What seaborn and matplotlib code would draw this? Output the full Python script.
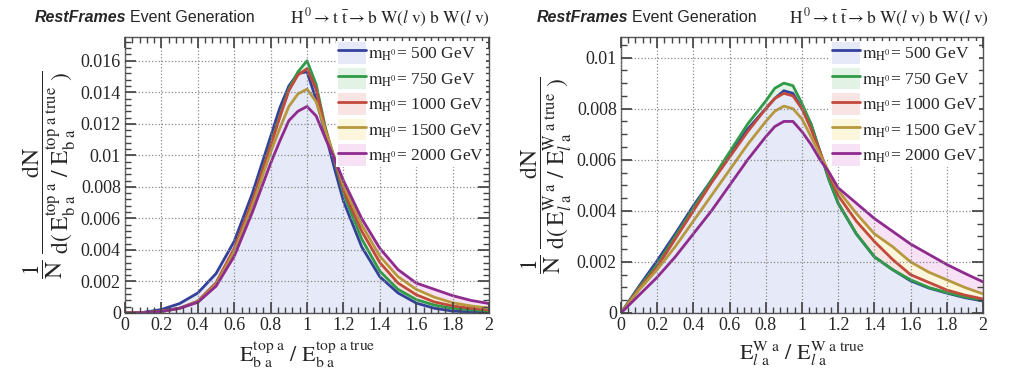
import numpy as np
import pandas as pd
import matplotlib
matplotlib.use("Agg")
import matplotlib.pyplot as plt
import seaborn as sns
from matplotlib.lines import Line2D
from matplotlib.patches import Patch
from matplotlib.ticker import MultipleLocator, FuncFormatter

# ------------------------------
# Data
# ------------------------------
masses = [500, 750, 1000, 1500, 2000]
colors = ["#34419a", "#2f9a48", "#c24a3c", "#b8983f", "#8f2a8f"]
fills = ["#e6e9f7", "#e2f3e6", "#f8e4e2", "#fcf6dc", "#f6e2f4"]

x_top = [0, 0.1, 0.2, 0.3, 0.4, 0.5, 0.6, 0.7, 0.8, 0.85, 0.9, 0.95, 1.0,
         1.05, 1.1, 1.15, 1.2, 1.3, 1.4, 1.5, 1.6, 1.7, 1.8, 1.9, 2.0]
top_500 = [0, 0.00004, 0.00022, 0.0006, 0.00127, 0.0025, 0.00455, 0.0076, 0.0112, 0.0130,
           0.0144, 0.0152, 0.0153, 0.01355, 0.0114, 0.0092, 0.0071, 0.0042, 0.0023, 0.00127,
           0.00063, 0.0003, 0.00012, 0.00007, 0.00005]
top_750 = [0, 0.00002, 0.0001, 0.0003, 0.00074, 0.0019, 0.0040, 0.0071, 0.0107, 0.0125,
           0.0142, 0.0153, 0.0160, 0.0145, 0.0118, 0.0097, 0.0076, 0.0047, 0.00265, 0.0015,
           0.00085, 0.0005, 0.0003, 0.0002, 0.00015]
top_1000 = [0, 0.00002, 0.0001, 0.0003, 0.00075, 0.0019, 0.0041, 0.0071, 0.0106, 0.0124,
            0.0141, 0.0151, 0.0155, 0.0142, 0.0117, 0.0098, 0.0078, 0.0052, 0.0032, 0.0019,
            0.00116, 0.0007, 0.00045, 0.0003, 0.0002]
top_1500 = [0, 0.00002, 0.0001, 0.0003, 0.0007, 0.0018, 0.0039, 0.0068, 0.0102, 0.0117,
            0.0131, 0.0139, 0.0142, 0.0134, 0.0116, 0.0099, 0.0081, 0.0056, 0.0036, 0.0023,
            0.0015, 0.001, 0.00065, 0.00045, 0.0003]
top_2000 = [0, 0.00002, 0.0001, 0.0003, 0.00068, 0.0017, 0.0036, 0.0064, 0.0095, 0.0109,
            0.0122, 0.0128, 0.0131, 0.0125, 0.0111, 0.0098, 0.0084, 0.0060, 0.0041, 0.00275,
            0.0019, 0.0015, 0.0011, 0.0008, 0.0006]

x_w = [0, 0.1, 0.2, 0.3, 0.4, 0.5, 0.6, 0.7, 0.8, 0.85, 0.9, 0.95, 1.0,
       1.05, 1.1, 1.15, 1.2, 1.3, 1.4, 1.5, 1.6, 1.7, 1.8, 1.9, 2.0]
w_500 = [0, 0.00105, 0.00205, 0.0031, 0.0042, 0.0052, 0.0062, 0.0072, 0.0080, 0.0084,
         0.0087, 0.0086, 0.0080, 0.0074, 0.0063, 0.0052, 0.0043, 0.0031, 0.0022, 0.0017,
         0.00126, 0.00098, 0.00078, 0.0006, 0.00047]
w_750 = [0, 0.001, 0.0019, 0.003, 0.0041, 0.0052, 0.0063, 0.0074, 0.0083, 0.0088,
         0.0090, 0.0089, 0.0082, 0.0074, 0.0063, 0.0052, 0.0043, 0.0031, 0.0022, 0.0017,
         0.0013, 0.001, 0.0008, 0.00063, 0.0005]
w_1000 = [0, 0.00095, 0.0018, 0.0029, 0.0040, 0.0051, 0.0061, 0.0071, 0.0080, 0.0084,
          0.0086, 0.0085, 0.0080, 0.0072, 0.0063, 0.0054, 0.0046, 0.0036, 0.0028, 0.0021,
          0.0015, 0.0012, 0.0009, 0.0007, 0.00055]
w_1500 = [0, 0.0009, 0.0017, 0.0026, 0.0036, 0.0046, 0.0056, 0.0066, 0.0075, 0.0079,
          0.0081, 0.0080, 0.0076, 0.0069, 0.0062, 0.0055, 0.0048, 0.0039, 0.0031, 0.0026,
          0.0020, 0.0016, 0.0013, 0.001, 0.00075]
w_2000 = [0, 0.0007, 0.0014, 0.0022, 0.0031, 0.0040, 0.0050, 0.0060, 0.0069, 0.0073,
          0.0075, 0.0075, 0.0071, 0.0066, 0.0060, 0.0055, 0.0049, 0.0043, 0.0037, 0.0032,
          0.0027, 0.0023, 0.0019, 0.00155, 0.00122]


def to_frame(x, series):
    rows = []
    for m, ys in zip(masses, series):
        for xv, yv in zip(x, ys):
            rows.append({"x": xv, "y": yv, "mass": m})
    return pd.DataFrame(rows)


df_top = to_frame(x_top, [top_500, top_750, top_1000, top_1500, top_2000])
df_w = to_frame(x_w, [w_500, w_750, w_1000, w_1500, w_2000])

# ------------------------------
# Style
# ------------------------------
sns.set_theme(style="ticks")
plt.rcParams["font.family"] = ["Liberation Serif", "DejaVu Serif"]
plt.rcParams["mathtext.fontset"] = "stix"

fig = plt.figure(figsize=(10.14, 3.88), dpi=100)
ax1 = fig.add_axes([0.1233, 0.1933, 0.359, 0.711])
ax2 = fig.add_axes([0.6124, 0.1933, 0.357, 0.711])


def draw_panel(ax, df, ymax, yminor):
    palette = dict(zip(masses, colors))
    # light fills, drawn from the widest tail (2000) to the 500 one on top
    for m, fc in reversed(list(zip(masses, fills))):
        sub = df[df["mass"] == m]
        ax.fill_between(sub["x"], 0, sub["y"], color=fc, lw=0)
    sns.lineplot(data=df, x="x", y="y", hue="mass", palette=palette, ax=ax,
                 linewidth=2, legend=False)
    ax.set_xlim(0, 2)
    ax.set_ylim(0, ymax)
    ax.xaxis.set_major_locator(MultipleLocator(0.2))
    ax.xaxis.set_minor_locator(MultipleLocator(0.04))
    ax.yaxis.set_major_locator(MultipleLocator(0.002))
    ax.yaxis.set_minor_locator(MultipleLocator(yminor))
    fmt = FuncFormatter(lambda v, p: "%g" % round(v, 6))
    ax.xaxis.set_major_formatter(fmt)
    ax.yaxis.set_major_formatter(fmt)
    ax.tick_params(which="both", direction="in", top=True, right=True,
                   labelsize=13, color="#444444", pad=3)
    ax.tick_params(which="major", length=8)
    ax.tick_params(which="minor", length=4)
    ax.grid(True, which="major", linestyle=":", color="#888888", linewidth=0.9)
    ax.set_axisbelow(False)
    for s in ax.spines.values():
        s.set_color("#555555")
        s.set_linewidth(1.0)

    handles = []
    labels = []
    for m, c, fc in zip(masses, colors, fills):
        handles.append((Patch(facecolor=fc, edgecolor="none"),
                        Line2D([], [], color=c, lw=2)))
        labels.append(r"$\mathrm{m}_{\mathrm{H}^{0}}$= %d GeV" % m)
    leg = ax.legend(handles, labels, loc="upper right", frameon=True, fontsize=12.5,
                    handlelength=1.6, handleheight=1.5, handletextpad=0.1,
                    labelspacing=0.25, borderaxespad=0.2, borderpad=0.1)
    leg.get_frame().set_facecolor("white")
    leg.get_frame().set_edgecolor("none")
    leg.get_frame().set_alpha(1.0)
    leg.get_frame().set_boxstyle("square", pad=0)


draw_panel(ax1, df_top, 0.0175, 0.0004)
draw_panel(ax2, df_w, 0.0108, 0.0005)

ax1.set_xlabel(r"$\mathrm{E}_{\mathrm{b\ a}}^{\mathrm{top\ a}}\ /\ \mathrm{E}_{\mathrm{b\ a}}^{\mathrm{top\ a\ true}}$",
               fontsize=16, labelpad=4)
ax1.set_ylabel(r"$\dfrac{1}{\mathrm{N}}\ \dfrac{\mathrm{dN}}{\mathrm{d(\,E}_{\mathrm{b\ a}}^{\mathrm{top\ a}}\ /\ \mathrm{E}_{\mathrm{b\ a}}^{\mathrm{top\ a\ true}}\ )}$",
               fontsize=17, labelpad=2)
ax2.set_xlabel(r"$\mathrm{E}_{\mathit{l}\ \mathrm{a}}^{\mathrm{W\ a}}\ /\ \mathrm{E}_{\mathit{l}\ \mathrm{a}}^{\mathrm{W\ a\ true}}$",
               fontsize=16, labelpad=4)
ax2.set_ylabel(r"$\dfrac{1}{\mathrm{N}}\ \dfrac{\mathrm{dN}}{\mathrm{d(\,E}_{\mathit{l}\ \mathrm{a}}^{\mathrm{W\ a}}\ /\ \mathrm{E}_{\mathit{l}\ \mathrm{a}}^{\mathrm{W\ a\ true}}\ )}$",
               fontsize=17, labelpad=2)

# ------------------------------
# Header texts
# ------------------------------
formula = r"$\mathrm{H}^{\,0} \rightarrow \mathrm{t}\ \bar{\mathrm{t}} \rightarrow \mathrm{b\ W(}\mathit{l}\ \mathrm{v)\ b\ W(}\mathit{l}\ \mathrm{v)}$"
fig.canvas.draw()
renderer = fig.canvas.get_renderer()
for x0, xf in [(0.034, 0.286), (0.529, 0.778)]:
    t = fig.text(x0, 0.955, "RestFrames", fontsize=11.5, fontweight="bold",
                 fontstyle="italic", family="Liberation Sans", va="center")
    w = t.get_window_extent(renderer).width
    fig.text(x0 + (w + 4) / fig.bbox.width, 0.955, "Event Generation", fontsize=11.5,
             family="Liberation Sans", va="center")
    fig.text(xf, 0.955, formula, fontsize=12.5, va="center")

fig.savefig("out.png", dpi=100)
